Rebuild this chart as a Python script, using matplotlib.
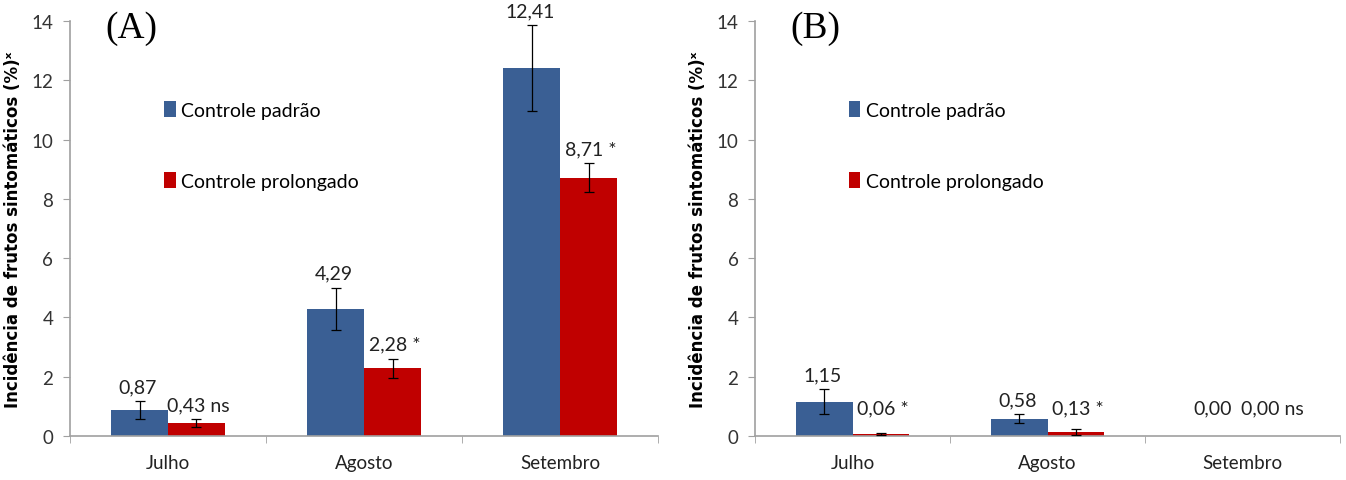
import matplotlib
matplotlib.use("Agg")
import matplotlib.pyplot as plt
import numpy as np

months = ["Julho", "Agosto", "Setembro"]
series = ["Controle padrão", "Controle prolongado"]

# Panel A
a_padrao = [0.87, 4.29, 12.41]
a_padrao_err = [0.30, 0.71, 1.45]
a_prolong = [0.43, 2.28, 8.71]
a_prolong_err = [0.13, 0.32, 0.49]
a_padrao_lbl = ["0,87", "4,29", "12,41"]
a_prolong_lbl = ["0,43 ns", "2,28 *", "8,71 *"]

# Panel B
b_padrao = [1.15, 0.58, 0.00]
b_padrao_err = [0.42, 0.15, 0.0]
b_prolong = [0.06, 0.13, 0.00]
b_prolong_err = [0.04, 0.09, 0.0]
b_padrao_lbl = ["1,15", "0,58", "0,00"]
b_prolong_lbl = ["0,06 *", "0,13 *", "0,00 ns"]

yticks = [0, 2, 4, 6, 8, 10, 12, 14]
ylabel = "Incidência de frutos sintomáticos (%)ˣ"

BLUE = "#3A5F94"
RED = "#C00000"
NARROW = ["Lato", "DejaVu Sans"]

fig = plt.figure(figsize=(13.46, 4.81), dpi=100)
axA = fig.add_axes([0.052, 0.0915, 0.437, 0.8625])
axB = fig.add_axes([0.561, 0.0915, 0.4345, 0.8625])

def draw(ax, p, pe, r, re, pl, rl, letter):
    x = np.arange(len(months))
    w = 0.29
    ax.bar(x - w / 2, p, w, color=BLUE, label=series[0], zorder=2)
    ax.bar(x + w / 2, r, w, color=RED, label=series[1], zorder=2)
    for xs, vals, errs in ((x - w / 2, p, pe), (x + w / 2, r, re)):
        for xi, v, e in zip(xs, vals, errs):
            if e > 0:
                ax.errorbar(xi, v, yerr=e, fmt="none", ecolor="black",
                            elinewidth=0.9, capsize=3.5, capthick=0.9, zorder=3)
    for xs, vals, errs, lbls, dx in ((x - w / 2, p, pe, pl, -0.01), (x + w / 2, r, re, rl, 0.01)):
        for xi, v, e, t in zip(xs, vals, errs, lbls):
            top = max(v + e, 0.45)
            ax.text(xi + dx, top + 0.5, t, ha="center", va="center", fontsize=14,
                    family=NARROW, color="#222222", clip_on=False)
    ax.set_xlim(-0.5, 2.5)
    ax.set_ylim(0, 14)
    ax.set_yticks(yticks)
    ax.set_yticklabels([str(t) for t in yticks], family=NARROW, fontsize=13.5, color="#333333")
    ax.set_xticks(x)
    ax.set_xticklabels(months, family=NARROW, fontsize=13.5, color="#222222")
    ax.set_xticks([-0.5, 0.5, 1.5, 2.5], minor=True)
    ax.tick_params(axis="x", which="major", length=0, pad=13)
    ax.tick_params(axis="x", which="minor", length=5, color="#A0A0A0", direction="out")
    ax.tick_params(axis="y", length=5, color="#A0A0A0", direction="out", pad=7)
    for s in ("top", "right"):
        ax.spines[s].set_visible(False)
    for s in ("left", "bottom"):
        ax.spines[s].set_color("#A0A0A0")
        ax.spines[s].set_linewidth(1.2)
    ax.set_ylabel(ylabel, fontsize=12, fontweight="bold", labelpad=7)
    ax.text(0.06, 0.985, letter, transform=ax.transAxes, fontsize=27,
            family=["Liberation Serif", "DejaVu Serif"], va="center", ha="left")
    ax.legend(loc="upper left", bbox_to_anchor=(0.13, 0.85), frameon=False,
              prop={"family": NARROW, "size": 14}, handlelength=0.6,
              handleheight=0.9, handletextpad=0.3, labelspacing=2.75)

draw(axA, a_padrao, a_padrao_err, a_prolong, a_prolong_err, a_padrao_lbl, a_prolong_lbl, "(A)")
draw(axB, b_padrao, b_padrao_err, b_prolong, b_prolong_err, b_padrao_lbl, b_prolong_lbl, "(B)")

fig.savefig("out.png", dpi=100)
